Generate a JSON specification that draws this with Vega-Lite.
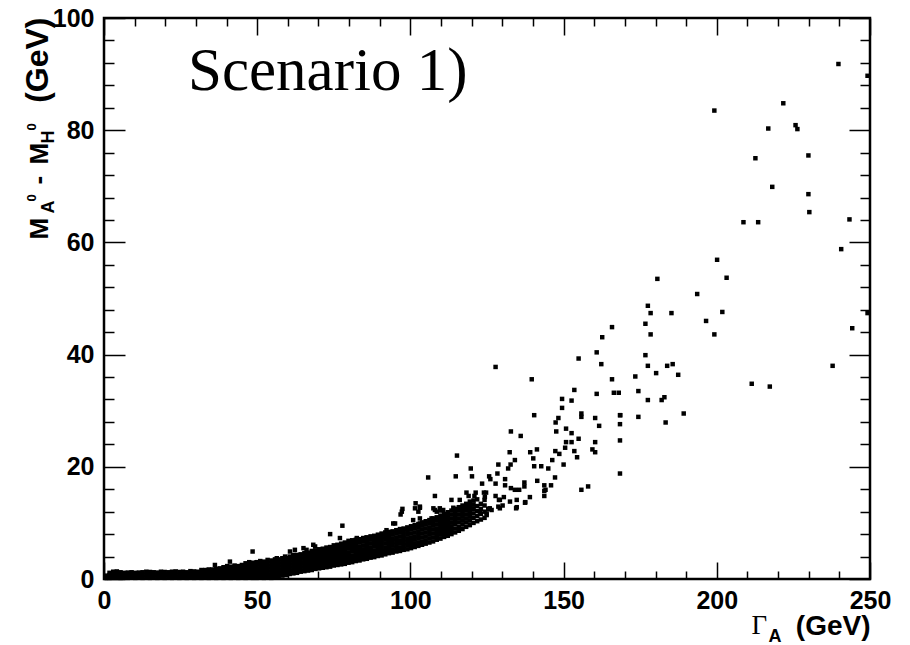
{
"$schema": "https://vega.github.io/schema/vega-lite/v6.json",
"width": 766, "height": 561,
"autosize": "none",
"padding": {"left": 104, "top": 18, "right": 40, "bottom": 66},
"background": "white",
"config": {
  "view": {"stroke": "black", "strokeWidth": 2.5},
  "axis": {"domain": false, "grid": false, "tickColor": "black", "tickWidth": 1.5,
    "labelFont": "Liberation Sans Narrow, Liberation Sans, sans-serif", "labelFontWeight": "bold", "labelFontSize": 25, "labelColor": "black",
    "titleColor": "black", "titleFont": "Liberation Sans, sans-serif", "titleFontWeight": "bold", "titleAlign": "left", "titleBaseline": "alphabetic", "titlePadding": 0}
},
"title": {"text": "Scenario 1)", "anchor": "start", "frame": "group", "font": "Liberation Serif", "fontSize": 61, "fontWeight": "normal", "color": "black", "offset": 0, "baseline": "alphabetic", "dx": 84, "dy": 145},
"datasets": {
"dummy": [{"x": 0, "y": 0}],
"pts": [
{"x":0.6,"y":0.2},{"x":0.6,"y":0.6},
{"x":1.8,"y":0.2},{"x":1.8,"y":0.7},{"x":1.8,"y":1.1},
{"x":3.0,"y":0.25},{"x":3.0,"y":0.75},{"x":3.0,"y":1.3},
{"x":4.2,"y":0.25},{"x":4.2,"y":0.75},{"x":4.2,"y":1.35},
{"x":5.4,"y":0.2},{"x":5.4,"y":0.7},{"x":5.4,"y":1.2},
{"x":6.6,"y":0.25},{"x":6.6,"y":0.75},{"x":6.6,"y":1.1},
{"x":7.8,"y":0.2},{"x":7.8,"y":0.7},{"x":7.8,"y":1.15},
{"x":9.0,"y":0.25},{"x":9.0,"y":0.75},{"x":9.0,"y":1.2},
{"x":10.2,"y":0.2},{"x":10.2,"y":0.7},{"x":10.2,"y":1.1},
{"x":11.4,"y":0.25},{"x":11.4,"y":0.75},{"x":11.4,"y":1.15},
{"x":12.6,"y":0.2},{"x":12.6,"y":0.7},{"x":12.6,"y":1.2},
{"x":13.8,"y":0.25},{"x":13.8,"y":0.75},{"x":13.8,"y":1.3},
{"x":15.0,"y":0.2},{"x":15.0,"y":0.7},{"x":15.0,"y":1.25},
{"x":16.2,"y":0.25},{"x":16.2,"y":0.75},{"x":16.2,"y":1.2},
{"x":17.4,"y":0.2},{"x":17.4,"y":0.7},{"x":17.4,"y":1.15},
{"x":18.6,"y":0.25},{"x":18.6,"y":0.75},{"x":18.6,"y":1.3},
{"x":19.8,"y":0.2},{"x":19.8,"y":0.7},{"x":19.8,"y":1.25},
{"x":21.0,"y":0.25},{"x":21.0,"y":0.75},{"x":21.0,"y":1.2},
{"x":22.2,"y":0.2},{"x":22.2,"y":0.7},{"x":22.2,"y":1.3},
{"x":23.4,"y":0.25},{"x":23.4,"y":0.75},{"x":23.4,"y":1.35},
{"x":24.6,"y":0.2},{"x":24.6,"y":0.7},{"x":24.6,"y":1.25},
{"x":25.8,"y":0.25},{"x":25.8,"y":0.75},{"x":25.8,"y":1.3},
{"x":27.0,"y":0.2},{"x":27.0,"y":0.7},{"x":27.0,"y":1.2},
{"x":28.2,"y":0.25},{"x":28.2,"y":0.75},{"x":28.2,"y":1.4},
{"x":29.4,"y":0.2},{"x":29.4,"y":0.7},{"x":29.4,"y":1.35},
{"x":30.6,"y":0.25},{"x":30.6,"y":0.75},{"x":30.6,"y":1.3},
{"x":31.8,"y":0.2},{"x":31.8,"y":0.7},{"x":31.8,"y":1.2},{"x":31.8,"y":1.6},
{"x":33.0,"y":0.25},{"x":33.0,"y":0.75},{"x":33.0,"y":1.25},{"x":33.0,"y":1.6},
{"x":34.2,"y":0.2},{"x":34.2,"y":0.7},{"x":34.2,"y":1.2},{"x":34.2,"y":1.7},
{"x":35.4,"y":0.25},{"x":35.4,"y":0.75},{"x":35.4,"y":1.25},{"x":35.4,"y":1.7},
{"x":36.6,"y":0.2},{"x":36.6,"y":0.7},{"x":36.6,"y":1.2},{"x":36.6,"y":1.8},
{"x":37.8,"y":0.25},{"x":37.8,"y":0.75},{"x":37.8,"y":1.25},{"x":37.8,"y":1.9},
{"x":39.0,"y":0.2},{"x":39.0,"y":0.7},{"x":39.0,"y":1.2},{"x":39.0,"y":1.7},{"x":39.0,"y":2.1},
{"x":40.2,"y":0.25},{"x":40.2,"y":0.75},{"x":40.2,"y":1.25},{"x":40.2,"y":1.8},{"x":40.2,"y":2.3},
{"x":41.4,"y":0.2},{"x":41.4,"y":0.7},{"x":41.4,"y":1.2},{"x":41.4,"y":1.7},{"x":41.4,"y":2.2},
{"x":42.6,"y":0.25},{"x":42.6,"y":0.75},{"x":42.6,"y":1.25},{"x":42.6,"y":1.8},{"x":42.6,"y":2.4},
{"x":43.8,"y":0.2},{"x":43.8,"y":0.7},{"x":43.8,"y":1.2},{"x":43.8,"y":1.7},{"x":43.8,"y":2.3},
{"x":45.0,"y":0.25},{"x":45.0,"y":0.75},{"x":45.0,"y":1.25},{"x":45.0,"y":1.8},{"x":45.0,"y":2.5},
{"x":46.2,"y":0.2},{"x":46.2,"y":0.7},{"x":46.2,"y":1.2},{"x":46.2,"y":1.7},{"x":46.2,"y":2.3},{"x":46.2,"y":2.8},
{"x":47.4,"y":0.25},{"x":47.4,"y":0.75},{"x":47.4,"y":1.25},{"x":47.4,"y":1.8},{"x":47.4,"y":2.4},{"x":47.4,"y":3.0},
{"x":48.6,"y":0.2},{"x":48.6,"y":0.7},{"x":48.6,"y":1.2},{"x":48.6,"y":1.7},{"x":48.6,"y":2.3},{"x":48.6,"y":2.9},
{"x":49.8,"y":0.2},{"x":49.8,"y":0.7},{"x":49.8,"y":1.2},{"x":49.8,"y":1.7},{"x":49.8,"y":2.2},{"x":49.8,"y":2.7},{"x":49.8,"y":3.0},
{"x":51.0,"y":0.25},{"x":51.0,"y":0.75},{"x":51.0,"y":1.25},{"x":51.0,"y":1.75},{"x":51.0,"y":2.25},{"x":51.0,"y":2.75},{"x":51.0,"y":3.2},
{"x":52.2,"y":0.2},{"x":52.2,"y":0.7},{"x":52.2,"y":1.2},{"x":52.2,"y":1.7},{"x":52.2,"y":2.2},{"x":52.2,"y":2.7},{"x":52.2,"y":3.1},
{"x":53.4,"y":0.25},{"x":53.4,"y":0.75},{"x":53.4,"y":1.25},{"x":53.4,"y":1.75},{"x":53.4,"y":2.25},{"x":53.4,"y":2.8},{"x":53.4,"y":3.4},
{"x":54.6,"y":0.2},{"x":54.6,"y":0.7},{"x":54.6,"y":1.2},{"x":54.6,"y":1.7},{"x":54.6,"y":2.2},{"x":54.6,"y":2.7},{"x":54.6,"y":3.3},
{"x":55.8,"y":0.4},{"x":55.8,"y":0.9},{"x":55.8,"y":1.4},{"x":55.8,"y":1.9},{"x":55.8,"y":2.4},{"x":55.8,"y":2.9},{"x":55.8,"y":3.5},
{"x":57.0,"y":0.5},{"x":57.0,"y":1.0},{"x":57.0,"y":1.5},{"x":57.0,"y":2.0},{"x":57.0,"y":2.5},{"x":57.0,"y":3.0},{"x":57.0,"y":3.5},
{"x":58.2,"y":0.6},{"x":58.2,"y":1.1},{"x":58.2,"y":1.6},{"x":58.2,"y":2.1},{"x":58.2,"y":2.6},{"x":58.2,"y":3.1},{"x":58.2,"y":3.7},
{"x":59.4,"y":0.7},{"x":59.4,"y":1.2},{"x":59.4,"y":1.7},{"x":59.4,"y":2.2},{"x":59.4,"y":2.7},{"x":59.4,"y":3.2},{"x":59.4,"y":3.7},
{"x":60.6,"y":0.9},{"x":60.6,"y":1.4},{"x":60.6,"y":1.9},{"x":60.6,"y":2.4},{"x":60.6,"y":2.9},{"x":60.6,"y":3.4},{"x":60.6,"y":4.0},
{"x":61.8,"y":1.0},{"x":61.8,"y":1.5},{"x":61.8,"y":2.0},{"x":61.8,"y":2.5},{"x":61.8,"y":3.0},{"x":61.8,"y":3.5},{"x":61.8,"y":4.1},
{"x":63.0,"y":1.1},{"x":63.0,"y":1.6},{"x":63.0,"y":2.1},{"x":63.0,"y":2.6},{"x":63.0,"y":3.1},{"x":63.0,"y":3.7},{"x":63.0,"y":4.3},
{"x":64.2,"y":1.3},{"x":64.2,"y":1.8},{"x":64.2,"y":2.3},{"x":64.2,"y":2.8},{"x":64.2,"y":3.3},{"x":64.2,"y":3.9},{"x":64.2,"y":4.4},
{"x":65.4,"y":1.4},{"x":65.4,"y":1.9},{"x":65.4,"y":2.4},{"x":65.4,"y":2.9},{"x":65.4,"y":3.5},{"x":65.4,"y":4.1},{"x":65.4,"y":4.6},
{"x":66.6,"y":1.5},{"x":66.6,"y":2.0},{"x":66.6,"y":2.5},{"x":66.6,"y":3.0},{"x":66.6,"y":3.6},{"x":66.6,"y":4.2},{"x":66.6,"y":4.7},
{"x":67.8,"y":1.6},{"x":67.8,"y":2.1},{"x":67.8,"y":2.7},{"x":67.8,"y":3.3},{"x":67.8,"y":3.9},{"x":67.8,"y":4.5},{"x":67.8,"y":5.0},
{"x":69.0,"y":1.8},{"x":69.0,"y":2.3},{"x":69.0,"y":2.9},{"x":69.0,"y":3.5},{"x":69.0,"y":4.0},{"x":69.0,"y":4.6},{"x":69.0,"y":5.1},
{"x":70.2,"y":1.9},{"x":70.2,"y":2.4},{"x":70.2,"y":3.0},{"x":70.2,"y":3.6},{"x":70.2,"y":4.2},{"x":70.2,"y":4.8},{"x":70.2,"y":5.3},
{"x":71.4,"y":2.0},{"x":71.4,"y":2.6},{"x":71.4,"y":3.2},{"x":71.4,"y":3.8},{"x":71.4,"y":4.4},{"x":71.4,"y":4.9},{"x":71.4,"y":5.4},
{"x":72.6,"y":2.1},{"x":72.6,"y":2.7},{"x":72.6,"y":3.3},{"x":72.6,"y":3.9},{"x":72.6,"y":4.5},{"x":72.6,"y":5.1},{"x":72.6,"y":5.6},
{"x":73.8,"y":2.2},{"x":73.8,"y":2.8},{"x":73.8,"y":3.4},{"x":73.8,"y":4.0},{"x":73.8,"y":4.6},{"x":73.8,"y":5.2},{"x":73.8,"y":5.7},
{"x":75.0,"y":2.4},{"x":75.0,"y":3.0},{"x":75.0,"y":3.6},{"x":75.0,"y":4.2},{"x":75.0,"y":4.8},{"x":75.0,"y":5.4},{"x":75.0,"y":6.0},
{"x":76.2,"y":2.5},{"x":76.2,"y":3.1},{"x":76.2,"y":3.7},{"x":76.2,"y":4.3},{"x":76.2,"y":4.9},{"x":76.2,"y":5.5},{"x":76.2,"y":6.1},
{"x":77.4,"y":2.6},{"x":77.4,"y":3.2},{"x":77.4,"y":3.8},{"x":77.4,"y":4.4},{"x":77.4,"y":5.0},{"x":77.4,"y":5.7},{"x":77.4,"y":6.3},
{"x":78.6,"y":2.7},{"x":78.6,"y":3.3},{"x":78.6,"y":3.9},{"x":78.6,"y":4.5},{"x":78.6,"y":5.2},{"x":78.6,"y":5.9},{"x":78.6,"y":6.5},
{"x":79.8,"y":2.9},{"x":79.8,"y":3.5},{"x":79.8,"y":4.1},{"x":79.8,"y":4.7},{"x":79.8,"y":5.4},{"x":79.8,"y":6.1},{"x":79.8,"y":6.8},
{"x":81.0,"y":3.0},{"x":81.0,"y":3.6},{"x":81.0,"y":4.2},{"x":81.0,"y":4.9},{"x":81.0,"y":5.5},{"x":81.0,"y":6.2},{"x":81.0,"y":6.9},
{"x":82.2,"y":3.2},{"x":82.2,"y":3.8},{"x":82.2,"y":4.4},{"x":82.2,"y":5.0},{"x":82.2,"y":5.7},{"x":82.2,"y":6.4},{"x":82.2,"y":7.0},
{"x":83.4,"y":3.3},{"x":83.4,"y":3.9},{"x":83.4,"y":4.5},{"x":83.4,"y":5.2},{"x":83.4,"y":5.8},{"x":83.4,"y":6.5},{"x":83.4,"y":7.1},
{"x":84.6,"y":3.5},{"x":84.6,"y":4.1},{"x":84.6,"y":4.7},{"x":84.6,"y":5.3},{"x":84.6,"y":6.0},{"x":84.6,"y":6.7},{"x":84.6,"y":7.3},
{"x":85.8,"y":3.6},{"x":85.8,"y":4.2},{"x":85.8,"y":4.8},{"x":85.8,"y":5.5},{"x":85.8,"y":6.1},{"x":85.8,"y":6.8},{"x":85.8,"y":7.4},
{"x":87.0,"y":3.8},{"x":87.0,"y":4.4},{"x":87.0,"y":5.0},{"x":87.0,"y":5.6},{"x":87.0,"y":6.3},{"x":87.0,"y":7.0},{"x":87.0,"y":7.6},
{"x":88.2,"y":3.9},{"x":88.2,"y":4.5},{"x":88.2,"y":5.1},{"x":88.2,"y":5.8},{"x":88.2,"y":6.4},{"x":88.2,"y":7.1},{"x":88.2,"y":7.7},
{"x":89.4,"y":4.1},{"x":89.4,"y":4.7},{"x":89.4,"y":5.3},{"x":89.4,"y":5.9},{"x":89.4,"y":6.6},{"x":89.4,"y":7.3},{"x":89.4,"y":7.9},
{"x":90.6,"y":4.2},{"x":90.6,"y":4.8},{"x":90.6,"y":5.4},{"x":90.6,"y":6.1},{"x":90.6,"y":6.8},{"x":90.6,"y":7.5},{"x":90.6,"y":8.1},
{"x":91.8,"y":4.4},{"x":91.8,"y":5.0},{"x":91.8,"y":5.6},{"x":91.8,"y":6.3},{"x":91.8,"y":7.0},{"x":91.8,"y":7.7},{"x":91.8,"y":8.3},
{"x":93.0,"y":4.6},{"x":93.0,"y":5.2},{"x":93.0,"y":5.8},{"x":93.0,"y":6.4},{"x":93.0,"y":7.1},{"x":93.0,"y":7.8},{"x":93.0,"y":8.4},
{"x":94.2,"y":4.7},{"x":94.2,"y":5.3},{"x":94.2,"y":6.0},{"x":94.2,"y":6.6},{"x":94.2,"y":7.2},{"x":94.2,"y":7.9},{"x":94.2,"y":8.5},
{"x":95.4,"y":4.9},{"x":95.4,"y":5.5},{"x":95.4,"y":6.1},{"x":95.4,"y":6.8},{"x":95.4,"y":7.4},{"x":95.4,"y":8.1},{"x":95.4,"y":8.7},
{"x":96.6,"y":5.0},{"x":96.6,"y":5.6},{"x":96.6,"y":6.3},{"x":96.6,"y":6.9},{"x":96.6,"y":7.6},{"x":96.6,"y":8.3},{"x":96.6,"y":8.9},
{"x":97.8,"y":5.2},{"x":97.8,"y":5.8},{"x":97.8,"y":6.4},{"x":97.8,"y":7.1},{"x":97.8,"y":7.7},{"x":97.8,"y":8.4},{"x":97.8,"y":9.0},
{"x":99.0,"y":5.3},{"x":99.0,"y":6.0},{"x":99.0,"y":6.6},{"x":99.0,"y":7.2},{"x":99.0,"y":7.9},{"x":99.0,"y":8.6},{"x":99.0,"y":9.2},
{"x":100.2,"y":5.5},{"x":100.2,"y":6.1},{"x":100.2,"y":6.8},{"x":100.2,"y":7.4},{"x":100.2,"y":8.1},{"x":100.2,"y":8.8},{"x":100.2,"y":9.4},
{"x":101.4,"y":5.7},{"x":101.4,"y":6.3},{"x":101.4,"y":7.0},{"x":101.4,"y":7.6},{"x":101.4,"y":8.3},{"x":101.4,"y":9.0},{"x":101.4,"y":9.6},
{"x":102.6,"y":5.9},{"x":102.6,"y":6.5},{"x":102.6,"y":7.2},{"x":102.6,"y":7.8},{"x":102.6,"y":8.5},{"x":102.6,"y":9.2},{"x":102.6,"y":9.8},
{"x":103.8,"y":6.1},{"x":103.8,"y":6.7},{"x":103.8,"y":7.4},{"x":103.8,"y":8.1},{"x":103.8,"y":8.8},{"x":103.8,"y":9.5},{"x":103.8,"y":10.1},
{"x":105.0,"y":6.3},{"x":105.0,"y":6.9},{"x":105.0,"y":7.6},{"x":105.0,"y":8.3},{"x":105.0,"y":9.0},{"x":105.0,"y":9.7},{"x":105.0,"y":10.3},
{"x":106.2,"y":6.5},{"x":106.2,"y":7.2},{"x":106.2,"y":7.9},{"x":106.2,"y":8.6},{"x":106.2,"y":9.2},{"x":106.2,"y":9.9},{"x":106.2,"y":10.5},
{"x":107.4,"y":6.7},{"x":107.4,"y":7.4},{"x":107.4,"y":8.1},{"x":107.4,"y":8.8},{"x":107.4,"y":9.5},{"x":107.4,"y":10.2},{"x":107.4,"y":10.8},
{"x":108.6,"y":7.0},{"x":108.6,"y":7.7},{"x":108.6,"y":8.4},{"x":108.6,"y":9.0},{"x":108.6,"y":9.7},{"x":108.6,"y":10.4},{"x":108.6,"y":11.0},
{"x":109.8,"y":7.2},{"x":109.8,"y":7.9},{"x":109.8,"y":8.6},{"x":109.8,"y":9.3},{"x":109.8,"y":10.0},{"x":109.8,"y":10.7},{"x":109.8,"y":11.3},
{"x":111.0,"y":7.5},{"x":111.0,"y":8.2},{"x":111.0,"y":8.9},{"x":111.0,"y":9.6},{"x":111.0,"y":10.3},{"x":111.0,"y":11.0},{"x":111.0,"y":11.6},
{"x":112.2,"y":7.7},{"x":112.2,"y":8.4},{"x":112.2,"y":9.1},{"x":112.2,"y":9.8},{"x":112.2,"y":10.5},{"x":112.2,"y":11.2},{"x":112.2,"y":11.9},
{"x":113.4,"y":8.0},{"x":113.4,"y":8.7},{"x":113.4,"y":9.4},{"x":113.4,"y":10.1},{"x":113.4,"y":10.8},{"x":113.4,"y":11.5},{"x":113.4,"y":12.2},
{"x":114.6,"y":8.3},{"x":114.6,"y":9.0},{"x":114.6,"y":9.8},{"x":114.6,"y":10.5},{"x":114.6,"y":11.1},{"x":114.6,"y":11.8},{"x":114.6,"y":12.5},
{"x":115.8,"y":8.6},{"x":115.8,"y":9.3},{"x":115.8,"y":10.1},{"x":115.8,"y":10.8},{"x":115.8,"y":11.5},{"x":115.8,"y":12.2},{"x":115.8,"y":12.8},
{"x":117.0,"y":8.9},{"x":117.0,"y":9.7},{"x":117.0,"y":10.4},{"x":117.0,"y":11.1},{"x":117.0,"y":11.8},{"x":117.0,"y":12.5},{"x":117.0,"y":13.1},
{"x":118.2,"y":9.3},{"x":118.2,"y":10.1},{"x":118.2,"y":10.8},{"x":118.2,"y":11.5},{"x":118.2,"y":12.2},{"x":118.2,"y":12.9},{"x":118.2,"y":13.4},
{"x":119.4,"y":9.6},{"x":119.4,"y":10.4},{"x":119.4,"y":11.1},{"x":119.4,"y":11.8},{"x":119.4,"y":12.5},{"x":119.4,"y":13.2},{"x":119.4,"y":13.8},
{"x":120.6,"y":10.0},{"x":120.6,"y":10.9},{"x":120.6,"y":11.7},{"x":120.6,"y":12.5},{"x":120.6,"y":13.3},{"x":120.6,"y":14.0},
{"x":121.8,"y":10.3},{"x":121.8,"y":11.2},{"x":121.8,"y":12.1},{"x":121.8,"y":13.0},{"x":121.8,"y":14.2},
{"x":123.0,"y":10.6},{"x":123.0,"y":11.6},{"x":123.0,"y":12.5},{"x":123.0,"y":13.4},
{"x":124.2,"y":10.9},{"x":124.2,"y":12.0},{"x":124.2,"y":13.1},{"x":124.2,"y":14.1},
{"x":36.2,"y":2.5},{"x":41.1,"y":3.1},{"x":48.5,"y":4.9},{"x":56.4,"y":3.7},{"x":59.1,"y":4.0},{"x":61.8,"y":4.3},
{"x":60.7,"y":4.9},{"x":62.3,"y":5.2},{"x":65.1,"y":5.5},{"x":66.1,"y":5.2},{"x":68.3,"y":6.1},{"x":68.9,"y":5.8},
{"x":73.8,"y":8.0},{"x":77.8,"y":9.5},{"x":77.0,"y":7.3},{"x":82.5,"y":7.3},{"x":85.7,"y":7.4},{"x":89.0,"y":7.5},
{"x":92.2,"y":8.7},{"x":94.4,"y":9.9},{"x":95.0,"y":9.9},{"x":97.2,"y":12.0},{"x":96.8,"y":11.5},{"x":100.9,"y":10.5},
{"x":103.1,"y":9.9},{"x":101.5,"y":12.6},{"x":103.1,"y":12.9},{"x":102.6,"y":12.0},{"x":103.1,"y":10.8},{"x":106.9,"y":10.8},
{"x":108.0,"y":12.3},{"x":109.7,"y":12.2},{"x":108.6,"y":12.0},{"x":110.7,"y":12.3},{"x":109.7,"y":10.5},{"x":109.1,"y":10.5},
{"x":111.3,"y":9.0},{"x":112.4,"y":9.3},{"x":124.9,"y":11.7},
{"x":124.9,"y":11.4},{"x":122.7,"y":12.0},{"x":126.5,"y":12.3},{"x":125.4,"y":12.5},{"x":128.7,"y":12.9},{"x":130.1,"y":13.1},
{"x":134.7,"y":12.8},{"x":137.4,"y":13.6},{"x":132.5,"y":13.8},{"x":124.3,"y":14.6},{"x":124.0,"y":15.4},{"x":143.7,"y":15.7},
{"x":127.8,"y":37.8},{"x":154.9,"y":39.3},{"x":160.8,"y":40.4},{"x":139.6,"y":35.6},{"x":153.5,"y":33.7},{"x":160.8,"y":33.0},
{"x":149.5,"y":32.1},{"x":152.6,"y":31.8},{"x":149.5,"y":30.5},{"x":140.4,"y":29.2},{"x":148.3,"y":28.7},{"x":147.4,"y":27.9},
{"x":155.8,"y":29.5},{"x":155.8,"y":28.9},{"x":160.3,"y":28.7},{"x":161.6,"y":27.3},{"x":168.4,"y":29.2},{"x":168.4,"y":27.6},
{"x":183.3,"y":27.9},{"x":132.8,"y":26.3},{"x":136.0,"y":25.5},{"x":147.6,"y":26.3},{"x":150.8,"y":26.8},{"x":152.6,"y":26.0},
{"x":154.9,"y":25.0},{"x":150.8,"y":24.4},{"x":152.6,"y":24.4},{"x":160.3,"y":24.4},{"x":168.4,"y":24.7},{"x":150.5,"y":23.4},
{"x":147.3,"y":22.8},{"x":148.6,"y":22.3},{"x":153.5,"y":22.8},{"x":154.4,"y":21.7},{"x":159.4,"y":23.1},{"x":160.3,"y":22.6},
{"x":141.3,"y":23.1},{"x":139.1,"y":22.6},{"x":132.4,"y":22.6},{"x":140.1,"y":21.5},{"x":134.1,"y":21.2},{"x":146.3,"y":21.2},
{"x":115.2,"y":22.0},{"x":128.7,"y":20.4},{"x":132.7,"y":20.4},{"x":131.9,"y":19.7},{"x":140.4,"y":20.1},{"x":142.7,"y":20.1},
{"x":145.0,"y":19.7},{"x":150.0,"y":20.4},{"x":168.4,"y":18.8},{"x":119.7,"y":19.7},{"x":114.8,"y":18.3},{"x":120.1,"y":18.3},
{"x":128.4,"y":18.8},{"x":105.8,"y":18.1},{"x":125.7,"y":18.3},{"x":126.1,"y":17.8},{"x":130.9,"y":17.8},{"x":141.4,"y":17.5},
{"x":147.2,"y":18.1},{"x":123.4,"y":17.0},{"x":127.8,"y":17.0},{"x":130.9,"y":16.7},{"x":132.8,"y":16.2},{"x":134.1,"y":15.9},
{"x":135.5,"y":15.9},{"x":137.2,"y":17.2},{"x":137.2,"y":16.5},{"x":143.7,"y":16.7},{"x":144.1,"y":15.9},{"x":145.9,"y":16.7},
{"x":155.8,"y":15.9},{"x":158.0,"y":16.5},{"x":108.0,"y":14.8},{"x":118.3,"y":15.4},{"x":119.0,"y":14.8},{"x":121.3,"y":15.4},
{"x":120.9,"y":14.8},{"x":124.7,"y":15.4},{"x":113.4,"y":14.1},{"x":116.1,"y":14.1},{"x":127.8,"y":14.8},{"x":128.9,"y":14.1},
{"x":130.5,"y":14.6},{"x":134.7,"y":14.1},{"x":137.5,"y":13.7},{"x":139.0,"y":14.6},{"x":143.7,"y":14.8},{"x":101.7,"y":13.5},
{"x":97.4,"y":12.5},{"x":103.1,"y":12.7},{"x":107.5,"y":12.6},{"x":109.6,"y":12.6},{"x":114.0,"y":12.7},{"x":118.3,"y":12.6},
{"x":120.5,"y":12.6},{"x":125.9,"y":12.6},{"x":129.2,"y":12.6},{"x":134.5,"y":12.6},{"x":129.2,"y":14.1},
{"x":239.7,"y":91.8},{"x":249.2,"y":89.7},{"x":199.2,"y":83.5},{"x":221.7,"y":84.8},{"x":216.8,"y":80.3},{"x":225.7,"y":80.9},
{"x":226.3,"y":80.2},{"x":229.9,"y":75.5},{"x":212.6,"y":75.0},{"x":218.1,"y":69.9},{"x":229.9,"y":68.6},{"x":230.2,"y":65.4},
{"x":208.7,"y":63.6},{"x":213.5,"y":63.6},{"x":243.3,"y":64.1},{"x":240.6,"y":58.8},{"x":200.1,"y":56.9},{"x":180.6,"y":53.5},
{"x":203.2,"y":53.7},{"x":193.6,"y":50.8},{"x":201.8,"y":47.6},{"x":177.5,"y":48.7},{"x":178.4,"y":47.4},{"x":185.2,"y":47.4},
{"x":165.8,"y":44.9},{"x":176.7,"y":45.5},{"x":178.4,"y":43.6},{"x":196.5,"y":46.0},{"x":199.2,"y":43.6},{"x":249.2,"y":47.4},
{"x":244.2,"y":44.7},{"x":162.6,"y":43.1},{"x":162.3,"y":38.3},{"x":176.7,"y":39.9},{"x":177.5,"y":38.0},{"x":183.8,"y":38.0},
{"x":185.6,"y":38.3},{"x":180.2,"y":36.7},{"x":187.4,"y":36.4},{"x":165.8,"y":35.6},{"x":173.4,"y":36.1},{"x":237.8,"y":38.0},
{"x":211.4,"y":34.8},{"x":217.3,"y":34.3},{"x":166.4,"y":33.2},{"x":168.0,"y":33.2},{"x":174.4,"y":33.5},{"x":177.5,"y":31.9},
{"x":182.0,"y":31.9},{"x":182.9,"y":32.4},{"x":168.5,"y":29.2},{"x":174.4,"y":28.9},{"x":189.2,"y":29.5}
]},
"layer": [
 {"data": {"name": "pts"}, "mark": {"type": "point", "shape": "square", "filled": true, "size": 20, "color": "black", "opacity": 1},
  "encoding": {
   "x": {"field": "x", "type": "quantitative", "scale": {"domain": [0, 250], "nice": false, "zero": false},
     "axis": {"orient": "bottom", "values": [0, 50, 100, 150, 200, 250], "tickSize": -17, "labelPadding": 26, "labelFlush": false, "labelOverlap": false, "format": "d",
       "title": "Γ", "titleFont": "Liberation Serif", "titleFontWeight": "normal", "titleFontSize": 27, "titleX": 647, "titleY": 54, "titleAngle": 0}},
   "y": {"field": "y", "type": "quantitative", "scale": {"domain": [0, 100], "nice": false, "zero": false},
     "axis": {"orient": "left", "values": [0, 20, 40, 60, 80, 100], "tickSize": -21, "labelPadding": 31, "labelFlush": false, "labelOverlap": false, "format": "d",
       "title": "M", "titleFontSize": 26, "titleAngle": 270, "titleX": -57, "titleY": 221}}}},
 {"data": {"name": "dummy"}, "mark": {"type": "point", "opacity": 0},
  "encoding": {
   "x": {"field": "x", "type": "quantitative", "scale": {"domain": [0, 250], "nice": false, "zero": false},
     "axis": {"orient": "bottom", "values": [10,20,30,40,60,70,80,90,110,120,130,140,160,170,180,190,210,220,230,240], "tickSize": -8, "labels": false,
       "title": "A", "titleFontSize": 18, "titleX": 664, "titleY": 62, "titleAngle": 0}},
   "y": {"field": "y", "type": "quantitative", "scale": {"domain": [0, 100], "nice": false, "zero": false},
     "axis": {"orient": "left", "values": [4,8,12,16,24,28,32,36,44,48,52,56,64,68,72,76,84,88,92,96], "tickSize": -10, "labels": false,
       "title": "A", "titleFontSize": 18, "titleAngle": 270, "titleX": -51, "titleY": 195}}}},
 {"data": {"name": "dummy"}, "mark": {"type": "point", "opacity": 0},
  "encoding": {
   "x": {"field": "x", "type": "quantitative", "scale": {"domain": [0, 250], "nice": false, "zero": false},
     "axis": {"orient": "top", "values": [0, 50, 100, 150, 200, 250], "tickSize": -17, "labels": false,
       "title": "(GeV)", "titleFontSize": 28, "titleAlign": "right", "titleX": 766, "titleY": 616, "titleAngle": 0}},
   "y": {"field": "y", "type": "quantitative", "scale": {"domain": [0, 100], "nice": false, "zero": false},
     "axis": {"orient": "right", "values": [0, 20, 40, 60, 80, 100], "tickSize": -21, "labels": false,
       "title": "0", "titleFontSize": 13, "titleAngle": 270, "titleX": -835, "titleY": 183}}}},
 {"data": {"name": "dummy"}, "mark": {"type": "point", "opacity": 0},
  "encoding": {
   "x": {"field": "x", "type": "quantitative", "scale": {"domain": [0, 250], "nice": false, "zero": false},
     "axis": {"orient": "top", "values": [10,20,30,40,60,70,80,90,110,120,130,140,160,170,180,190,210,220,230,240], "tickSize": -8, "labels": false, "title": null}},
   "y": {"field": "y", "type": "quantitative", "scale": {"domain": [0, 100], "nice": false, "zero": false},
     "axis": {"orient": "right", "values": [4,8,12,16,24,28,32,36,44,48,52,56,64,68,72,76,84,88,92,96], "tickSize": -10, "labels": false,
       "title": "-", "titleFontSize": 26, "titleAngle": 270, "titleX": -824, "titleY": 166}}}},
 {"data": {"name": "dummy"}, "mark": {"type": "point", "opacity": 0},
  "encoding": {
   "x": {"field": "x", "type": "quantitative", "scale": {"domain": [0, 250], "nice": false, "zero": false}, "axis": null},
   "y": {"field": "y", "type": "quantitative", "scale": {"domain": [0, 100], "nice": false, "zero": false},
     "axis": {"orient": "left", "ticks": false, "labels": false, "title": "M", "titleFontSize": 26, "titleAngle": 270, "titleX": -57, "titleY": 146}}}},
 {"data": {"name": "dummy"}, "mark": {"type": "point", "opacity": 0},
  "encoding": {
   "x": {"field": "x", "type": "quantitative", "scale": {"domain": [0, 250], "nice": false, "zero": false}, "axis": null},
   "y": {"field": "y", "type": "quantitative", "scale": {"domain": [0, 100], "nice": false, "zero": false},
     "axis": {"orient": "left", "ticks": false, "labels": false, "title": "H", "titleFontSize": 18, "titleAngle": 270, "titleX": -51, "titleY": 125}}}},
 {"data": {"name": "dummy"}, "mark": {"type": "point", "opacity": 0},
  "encoding": {
   "x": {"field": "x", "type": "quantitative", "scale": {"domain": [0, 250], "nice": false, "zero": false}, "axis": null},
   "y": {"field": "y", "type": "quantitative", "scale": {"domain": [0, 100], "nice": false, "zero": false},
     "axis": {"orient": "left", "ticks": false, "labels": false, "title": "0", "titleFontSize": 13, "titleAngle": 270, "titleX": -69, "titleY": 112}}}},
 {"data": {"name": "dummy"}, "mark": {"type": "point", "opacity": 0},
  "encoding": {
   "x": {"field": "x", "type": "quantitative", "scale": {"domain": [0, 250], "nice": false, "zero": false}, "axis": null},
   "y": {"field": "y", "type": "quantitative", "scale": {"domain": [0, 100], "nice": false, "zero": false},
     "axis": {"orient": "left", "ticks": false, "labels": false, "title": "(GeV)", "titleFontSize": 32, "titleAlign": "right", "titleAngle": 270, "titleX": -57, "titleY": -1}}}}
],
"resolve": {"axis": {"x": "independent", "y": "independent"}}
}
